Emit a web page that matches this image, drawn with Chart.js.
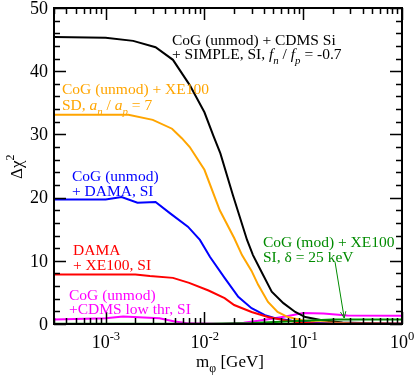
<!DOCTYPE html>
<html>
<head>
<meta charset="utf-8">
<script src="https://cdn.jsdelivr.net/npm/chart.js@4.4.0/dist/chart.umd.min.js"></script>
<style>
  html, body { margin: 0; padding: 0; background: #fff; }
  canvas { display: block; }
</style>
</head>
<body>
<canvas id="chart" width="415" height="379"></canvas>
<script>
// m_phi [GeV] and delta chi^2 for each curve
const massBlack = [3.0e-4, 1.0e-3, 1.9e-3, 3.2e-3, 4.8e-3, 7.1e-3, 1.0e-2, 1.23e-2, 1.45e-2, 1.95e-2, 2.7e-2, 3.1e-2, 3.8e-2, 4.8e-2, 6.3e-2, 8.3e-2, 0.105, 0.155, 0.25, 0.5, 1.0];
const chi2Black = [45.4, 45.3, 44.8, 43.8, 41.8, 37.8, 33.5, 29.8, 27.0, 20.3, 13.3, 10.9, 8.2, 5.1, 3.3, 1.9, 1.1, 0.6, 0.25, 0.1, 0.05];

const massOrange = [3.0e-4, 1.7e-3, 3.0e-3, 4.7e-3, 5.9e-3, 7.1e-3, 1.0e-2, 1.43e-2, 2.0e-2, 2.4e-2, 3.0e-2, 3.5e-2, 4.4e-2, 5.5e-2, 7.0e-2, 9.7e-2, 0.13, 0.3, 1.0];
const chi2Orange = [33.1, 33.1, 32.3, 30.9, 29.4, 28.0, 24.4, 18.0, 13.6, 10.9, 8.4, 6.2, 3.5, 1.9, 1.1, 0.6, 0.3, 0.1, 0.05];

const massBlue = [3.0e-4, 1.0e-3, 1.45e-3, 2.1e-3, 3.2e-3, 4.5e-3, 6.8e-3, 9.0e-3, 1.14e-2, 1.6e-2, 2.2e-2, 3.0e-2, 4.1e-2, 5.2e-2, 7.7e-2, 0.12, 0.2, 1.0];
const chi2Blue = [19.7, 19.7, 20.1, 19.2, 19.3, 17.5, 15.4, 13.3, 10.6, 7.3, 4.3, 2.5, 1.4, 0.9, 0.5, 0.2, 0.05, 0.05];

const massRed = [3.0e-4, 2.0e-3, 2.8e-3, 4.8e-3, 7.0e-3, 1.1e-2, 1.6e-2, 2.0e-2, 3.0e-2, 4.4e-2, 6.5e-2, 9.7e-2, 0.15, 1.0];
const chi2Red = [7.85, 7.85, 7.6, 7.3, 6.5, 5.3, 4.1, 3.0, 1.9, 1.1, 0.6, 0.2, 0.05, 0.02];

const massMagenta = [3.0e-4, 1.0e-3, 1.5e-3, 3.5e-3, 5.0e-3, 7.0e-3, 1.5e-2, 2.5e-2, 3.5e-2, 5.1e-2, 6.6e-2, 0.1, 0.16, 0.28, 1.0];
const chi2Magenta = [0.73, 0.9, 1.2, 0.9, 0.4, 0.1, 0.05, 0.2, 0.5, 0.9, 1.2, 1.75, 1.65, 1.35, 1.3];

const massGreen = [3.0e-4, 1.0e-2, 3.0e-2, 6.0e-2, 0.1, 0.2, 1.0];
const chi2Green = [0.05, 0.05, 0.15, 0.35, 0.5, 0.7, 0.7];

const yTickValues = [0, 10, 20, 30, 40, 50];
const xDecades = [1e-3, 1e-2, 1e-1, 1];
const xDecadeExponents = ['-3', '-2', '-1', '0'];

const SERIF = '"Liberation Serif", "DejaVu Serif", serif';
const GREEN = '#008b00';

function toPoints(xs, ys) {
  return xs.map((x, i) => ({ x: x, y: ys[i] }));
}

function series(xs, ys, color) {
  return {
    data: toPoints(xs, ys),
    borderColor: color,
    borderWidth: 2,
    pointRadius: 0,
    showLine: true,
    tension: 0,
    fill: false
  };
}

// draw text made of pieces: {t, italic, sub, sup}
function drawRich(ctx, x, y, parts, size, color) {
  ctx.fillStyle = color;
  ctx.textBaseline = 'alphabetic';
  ctx.textAlign = 'left';
  let cx = x;
  parts.forEach(p => {
    const small = p.sub || p.sup;
    const fs = small ? size * 0.7 : size;
    ctx.font = (p.italic ? 'italic ' : '') + fs + 'px ' + SERIF;
    let dy = 0;
    if (p.sub) dy = size * 0.3;
    if (p.sup) dy = -size * 0.45;
    ctx.fillText(p.t, cx, y + dy);
    cx += ctx.measureText(p.t).width;
  });
  return cx;
}

const framePlugin = {
  id: 'frame',
  afterDraw(chart) {
    const ctx = chart.ctx;
    const a = chart.chartArea;
    const xs = chart.scales.x;
    const ys = chart.scales.y;
    ctx.save();

    // frame
    ctx.strokeStyle = '#000';
    ctx.lineWidth = 2;
    ctx.strokeRect(a.left, a.top, a.right - a.left, a.bottom - a.top);

    // y ticks (inside, both sides)
    ctx.lineWidth = 1.5;
    for (let v = 0; v <= 50; v += 2) {
      const py = Math.round(ys.getPixelForValue(v)) + 0.5;
      const len = v % 10 === 0 ? 12 : 6;
      ctx.beginPath();
      ctx.moveTo(a.left, py); ctx.lineTo(a.left + len, py);
      ctx.moveTo(a.right, py); ctx.lineTo(a.right - len, py);
      ctx.stroke();
    }
    // x ticks (log, inside, top and bottom)
    for (let e = -4; e <= 0; e++) {
      for (let k = 1; k <= 9; k++) {
        const v = k * Math.pow(10, e);
        if (v < xs.min * 0.999 || v > xs.max * 1.001) continue;
        const px = Math.round(xs.getPixelForValue(v)) + 0.5;
        const len = k === 1 ? 12 : 6;
        ctx.beginPath();
        ctx.moveTo(px, a.bottom); ctx.lineTo(px, a.bottom - len);
        ctx.moveTo(px, a.top); ctx.lineTo(px, a.top + len);
        ctx.stroke();
      }
    }

    // y tick labels
    ctx.fillStyle = '#000';
    ctx.font = '18px ' + SERIF;
    ctx.textAlign = 'right';
    ctx.textBaseline = 'middle';
    yTickValues.forEach(v => {
      ctx.fillText(String(v), a.left - 6, ys.getPixelForValue(v) + 1);
    });

    // x tick labels: 10^n
    xDecades.forEach((v, i) => {
      const px = xs.getPixelForValue(v);
      ctx.font = '18px ' + SERIF;
      const w1 = ctx.measureText('10').width;
      ctx.font = '12px ' + SERIF;
      const w2 = ctx.measureText(xDecadeExponents[i]).width;
      const start = px - (w1 + w2) / 2;
      drawRich(ctx, start, a.bottom + 24, [{ t: '10' }, { t: xDecadeExponents[i], sup: true }], 18, '#000');
    });

    // axis titles
    const tw = drawRich(ctx, 0, -1000, [{ t: 'm' }, { t: '\u03c6', sub: true }, { t: ' [GeV]' }], 17, '#fff');
    drawRich(ctx, (a.left + a.right) / 2 - tw / 2 + 2, 367, [{ t: 'm' }, { t: '\u03c6', sub: true }, { t: ' [GeV]' }], 17, '#000');

    ctx.save();
    ctx.translate(22, 179);
    ctx.rotate(-Math.PI / 2);
    drawRich(ctx, 0, 0, [{ t: '\u0394\u03c7' }, { t: '2', sup: true }], 17, '#000');
    ctx.restore();

    // curve annotations
    const fs = 15.5;
    drawRich(ctx, 172, 45, [{ t: 'CoG (unmod) + CDMS Si' }], fs, '#000');
    drawRich(ctx, 172, 59, [{ t: '+ SIMPLE, SI, ' }, { t: 'f', italic: true }, { t: 'n', italic: true, sub: true },
      { t: ' / ' }, { t: 'f', italic: true }, { t: 'p', italic: true, sub: true }, { t: ' = -0.7' }], fs, '#000');

    drawRich(ctx, 62, 94, [{ t: 'CoG (unmod) + XE100' }], fs, '#ffa500');
    drawRich(ctx, 62, 110, [{ t: 'SD, ' }, { t: 'a', italic: true }, { t: 'n', italic: true, sub: true },
      { t: ' / ' }, { t: 'a', italic: true }, { t: 'p', italic: true, sub: true }, { t: ' = 7' }], fs, '#ffa500');

    drawRich(ctx, 72, 181, [{ t: 'CoG (unmod)' }], fs, '#0000ff');
    drawRich(ctx, 72, 196, [{ t: '+ DAMA, SI' }], fs, '#0000ff');

    drawRich(ctx, 73, 255, [{ t: 'DAMA' }], fs, '#ff0000');
    drawRich(ctx, 73, 270, [{ t: '+ XE100, SI' }], fs, '#ff0000');

    drawRich(ctx, 69, 300, [{ t: 'CoG (unmod)' }], fs, '#ff00ff');
    drawRich(ctx, 69, 314, [{ t: '+CDMS low thr, SI' }], fs, '#ff00ff');

    drawRich(ctx, 263, 247, [{ t: 'CoG (mod) + XE100' }], fs, GREEN);
    drawRich(ctx, 263, 262, [{ t: 'SI, \u03b4 = 25 keV' }], fs, GREEN);

    // green arrow
    const x0 = xs.getPixelForValue(0.21), y0 = ys.getPixelForValue(9.8);
    const x1 = xs.getPixelForValue(0.26), y1 = ys.getPixelForValue(0.95);
    const ang = Math.atan2(y1 - y0, x1 - x0);
    ctx.strokeStyle = GREEN;
    ctx.lineWidth = 1;
    ctx.beginPath();
    ctx.moveTo(x0, y0); ctx.lineTo(x1, y1);
    ctx.moveTo(x1 - 7 * Math.cos(ang - 0.4), y1 - 7 * Math.sin(ang - 0.4));
    ctx.lineTo(x1, y1);
    ctx.lineTo(x1 - 7 * Math.cos(ang + 0.4), y1 - 7 * Math.sin(ang + 0.4));
    ctx.stroke();

    ctx.restore();
  }
};

new Chart(document.getElementById('chart').getContext('2d'), {
  type: 'scatter',
  data: {
    datasets: [
      series(massGreen, chi2Green, GREEN),
      series(massRed, chi2Red, '#ff0000'),
      series(massBlue, chi2Blue, '#0000ff'),
      series(massOrange, chi2Orange, '#ffa500'),
      series(massBlack, chi2Black, '#000000'),
      series(massMagenta, chi2Magenta, '#ff00ff')
    ]
  },
  options: {
    responsive: false,
    animation: false,
    layout: { padding: { left: 54, right: 13, top: 8, bottom: 55 } },
    scales: {
      x: { type: 'logarithmic', min: 3e-4, max: 1, display: false },
      y: { type: 'linear', min: 0, max: 50, display: false }
    },
    plugins: {
      legend: { display: false },
      tooltip: { enabled: false }
    }
  },
  plugins: [framePlugin]
});
</script>
</body>
</html>
